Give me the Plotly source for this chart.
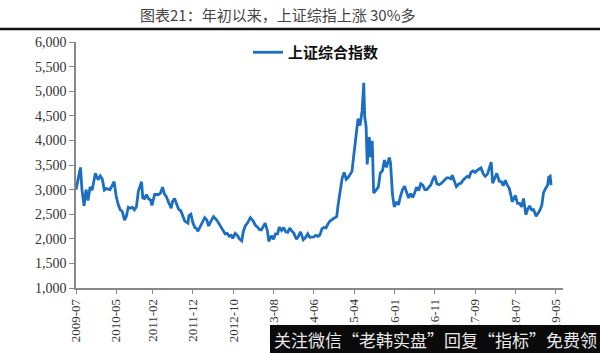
import plotly.graph_objects as go

dates = [
"2009-07-01","2009-07-15","2009-08-04","2009-08-15","2009-08-31","2009-09-15","2009-09-30","2009-10-15","2009-10-31",
"2009-11-15","2009-11-24","2009-12-15","2009-12-31","2010-01-15","2010-01-31","2010-02-15","2010-03-15","2010-04-15",
"2010-04-30","2010-05-15","2010-05-31","2010-06-15","2010-07-02","2010-07-15","2010-07-31","2010-08-15","2010-08-31",
"2010-09-15","2010-09-30","2010-10-15","2010-11-08","2010-11-17","2010-11-30","2010-12-15","2010-12-31","2011-01-15",
"2011-01-25","2011-02-15","2011-02-28","2011-03-15","2011-03-31","2011-04-15","2011-04-30","2011-05-15","2011-05-31",
"2011-06-20","2011-06-30","2011-07-15","2011-07-31","2011-08-15","2011-08-31","2011-09-15","2011-09-30","2011-10-24",
"2011-10-31","2011-11-15","2011-11-30","2011-12-15","2011-12-31","2012-01-06","2012-01-31","2012-02-15","2012-02-28",
"2012-03-15","2012-03-28","2012-04-15","2012-05-04","2012-05-31","2012-06-15","2012-06-30","2012-07-15","2012-07-31",
"2012-08-15","2012-08-31","2012-09-15","2012-09-26","2012-10-15","2012-10-31","2012-11-15","2012-12-03","2012-12-15",
"2012-12-31","2013-01-15","2013-02-06","2013-02-28","2013-03-15","2013-03-31","2013-04-15","2013-04-30","2013-05-29",
"2013-06-15","2013-06-25","2013-07-15","2013-07-31","2013-08-15","2013-08-31","2013-09-12","2013-09-30","2013-10-15",
"2013-10-31","2013-11-15","2013-11-30","2013-12-15","2013-12-31","2014-01-20","2014-01-31","2014-02-20","2014-03-12",
"2014-03-31","2014-04-15","2014-04-30","2014-05-15","2014-05-31","2014-06-15","2014-06-30","2014-07-15","2014-07-31",
"2014-08-15","2014-08-31","2014-09-15","2014-09-30","2014-10-31","2014-11-20","2014-11-30","2014-12-15","2014-12-31",
"2015-01-15","2015-01-31","2015-02-15","2015-02-28","2015-03-15","2015-03-31","2015-04-15","2015-04-30","2015-05-15",
"2015-05-31","2015-06-12","2015-06-19","2015-06-30","2015-07-08","2015-07-24","2015-07-31","2015-08-15","2015-08-26",
"2015-09-15","2015-09-30","2015-10-15","2015-10-31","2015-11-15","2015-11-30","2015-12-22","2015-12-31","2016-01-15",
"2016-01-28","2016-02-15","2016-02-29","2016-03-15","2016-03-31","2016-04-15","2016-04-30","2016-05-15","2016-05-31",
"2016-06-15","2016-06-30","2016-07-15","2016-07-31","2016-08-15","2016-08-31","2016-09-15","2016-09-30","2016-10-15",
"2016-10-31","2016-11-15","2016-11-29","2016-12-15","2016-12-31","2017-01-15","2017-01-31","2017-02-15","2017-02-28",
"2017-03-15","2017-03-31","2017-04-10","2017-04-30","2017-05-11","2017-05-31","2017-06-15","2017-06-30","2017-07-15",
"2017-07-31","2017-08-15","2017-08-31","2017-09-15","2017-09-30","2017-10-15","2017-11-13","2017-11-30","2017-12-15",
"2017-12-31","2018-01-29","2018-02-09","2018-02-28","2018-03-12","2018-03-31","2018-04-15","2018-04-30","2018-05-15",
"2018-05-31","2018-06-15","2018-06-30","2018-07-06","2018-07-31","2018-08-15","2018-08-31","2018-09-15","2018-09-30",
"2018-10-18","2018-10-31","2018-11-15","2018-11-30","2018-12-15","2019-01-03","2019-01-31","2019-02-15","2019-02-28",
"2019-03-15","2019-03-31","2019-04-08","2019-04-19","2019-04-26"]

index_values = [
3000,3200,3450,3000,2670,3000,2780,3050,2990,
3200,3330,3200,3277,3220,2990,3020,3000,3160,
2870,2700,2590,2560,2380,2450,2640,2620,2640,
2590,2650,2970,3160,2830,2820,2900,2810,2790,
2680,2900,2900,2900,2930,3050,2910,2850,2740,
2620,2760,2820,2700,2600,2570,2480,2360,2320,
2470,2500,2330,2230,2200,2150,2290,2360,2430,
2380,2260,2360,2450,2370,2300,2220,2170,2100,
2110,2050,2070,2010,2110,2070,2000,1960,2150,
2270,2320,2430,2360,2280,2240,2190,2180,2320,
2160,1950,2060,1990,2100,2100,2240,2170,2230,
2140,2130,2220,2160,2115,1990,2030,2140,1980,
2030,2100,2030,2030,2040,2070,2050,2070,2200,
2230,2220,2300,2360,2420,2450,2680,2950,3230,
3350,3210,3250,3310,3370,3750,4080,4440,4300,
4610,5170,4480,4280,3510,4070,3660,3990,2930,
3000,3050,3340,3380,3600,3450,3650,3540,2900,
2650,2750,2690,2860,3000,3070,2940,2830,2920,
2840,2930,3050,2980,3120,3090,3000,3000,3060,
3100,3210,3280,3120,3100,3120,3160,3210,3240,
3240,3220,3290,3150,3060,3120,3130,3190,3220,
3270,3250,3360,3380,3350,3390,3440,3320,3270,
3310,3560,3130,3260,3330,3170,3160,3080,3190,
3090,3020,2850,2750,2880,2720,2720,2650,2820,
2490,2600,2670,2590,2590,2460,2580,2680,2940,
3020,3090,3250,3270,3090]

tick_vals = ["2009-07-01","2010-05-01","2011-02-01","2011-12-01","2012-10-01","2013-08-01",
             "2014-06-01","2015-04-01","2016-01-31","2016-11-30","2017-09-30","2018-07-31","2019-05-31"]
tick_text = ["2009-07","2010-05","2011-02","2011-12","2012-10","2013-08",
             "2014-06","2015-04","2016-01","2016-11","2017-09","2018-07","2019-05"]
y_ticks = [1000,1500,2000,2500,3000,3500,4000,4500,5000,5500,6000]

series_name = "上证综合指数"
title_text = "图表21：年初以来，上证综指上涨 30%多"
watermark = "关注微信“老韩实盘”回复“指标”免费领"

W, H = 600, 353
L, R, T, B = 76, 37, 42, 65
PW, PH = W - L - R, H - T - B

def px(x):
    return (x - L) / PW

def py(y):
    return (H - B - y) / PH

fig = go.Figure()
fig.add_trace(go.Scatter(x=dates, y=index_values, mode="lines", name=series_name,
                         line=dict(color="#1b6ec2", width=2.8)))

fig.update_layout(
    width=W, height=H,
    margin=dict(l=L, r=R, t=T, b=B),
    paper_bgcolor="white", plot_bgcolor="white",
    showlegend=True,
    legend=dict(x=px(248), y=py(36), xanchor="left", yanchor="top", orientation="h",
                font=dict(family="Noto Sans CJK SC", size=15, color="#111", weight="bold"),
                bgcolor="rgba(0,0,0,0)", itemwidth=30),
    xaxis=dict(type="date", range=["2009-07-01", "2019-07-25"],
               tickvals=tick_vals, ticktext=tick_text, tickangle=-90,
               showgrid=False, zeroline=False, showline=True, linecolor="#888", linewidth=1.5,
               ticks="outside", ticklen=4, tickcolor="#888",
               tickfont=dict(family="Liberation Serif", size=13, color="#333")),
    yaxis=dict(range=[1000, 6000], tickvals=y_ticks, tickformat=",d",
               showgrid=False, zeroline=False, showline=True, linecolor="#888", linewidth=1.5,
               ticks="outside", ticklen=5, tickcolor="#888",
               tickfont=dict(family="Liberation Serif", size=14, color="#333")),
)

fig.add_annotation(text=title_text, xref="paper", yref="paper",
                   x=px(277), y=py(14), xanchor="center", yanchor="middle", showarrow=False,
                   font=dict(family="Noto Sans CJK SC", size=15, color="#444"))
# black rule under title
fig.add_shape(type="line", xref="paper", yref="paper",
              x0=px(0), x1=px(W), y0=py(29), y1=py(29),
              line=dict(color="#111", width=2.5))
# watermark box
fig.add_shape(type="rect", xref="paper", yref="paper",
              x0=px(270), x1=px(W), y0=py(H), y1=py(325),
              fillcolor="#0a0a0a", line=dict(width=0), layer="above")
fig.add_annotation(text=watermark, xref="paper", yref="paper",
                   x=px(435), y=py(339), xanchor="center", yanchor="middle", showarrow=False,
                   font=dict(family="Noto Sans CJK SC", size=17, color="#e8e8e8"))

fig.write_html("out.html")
